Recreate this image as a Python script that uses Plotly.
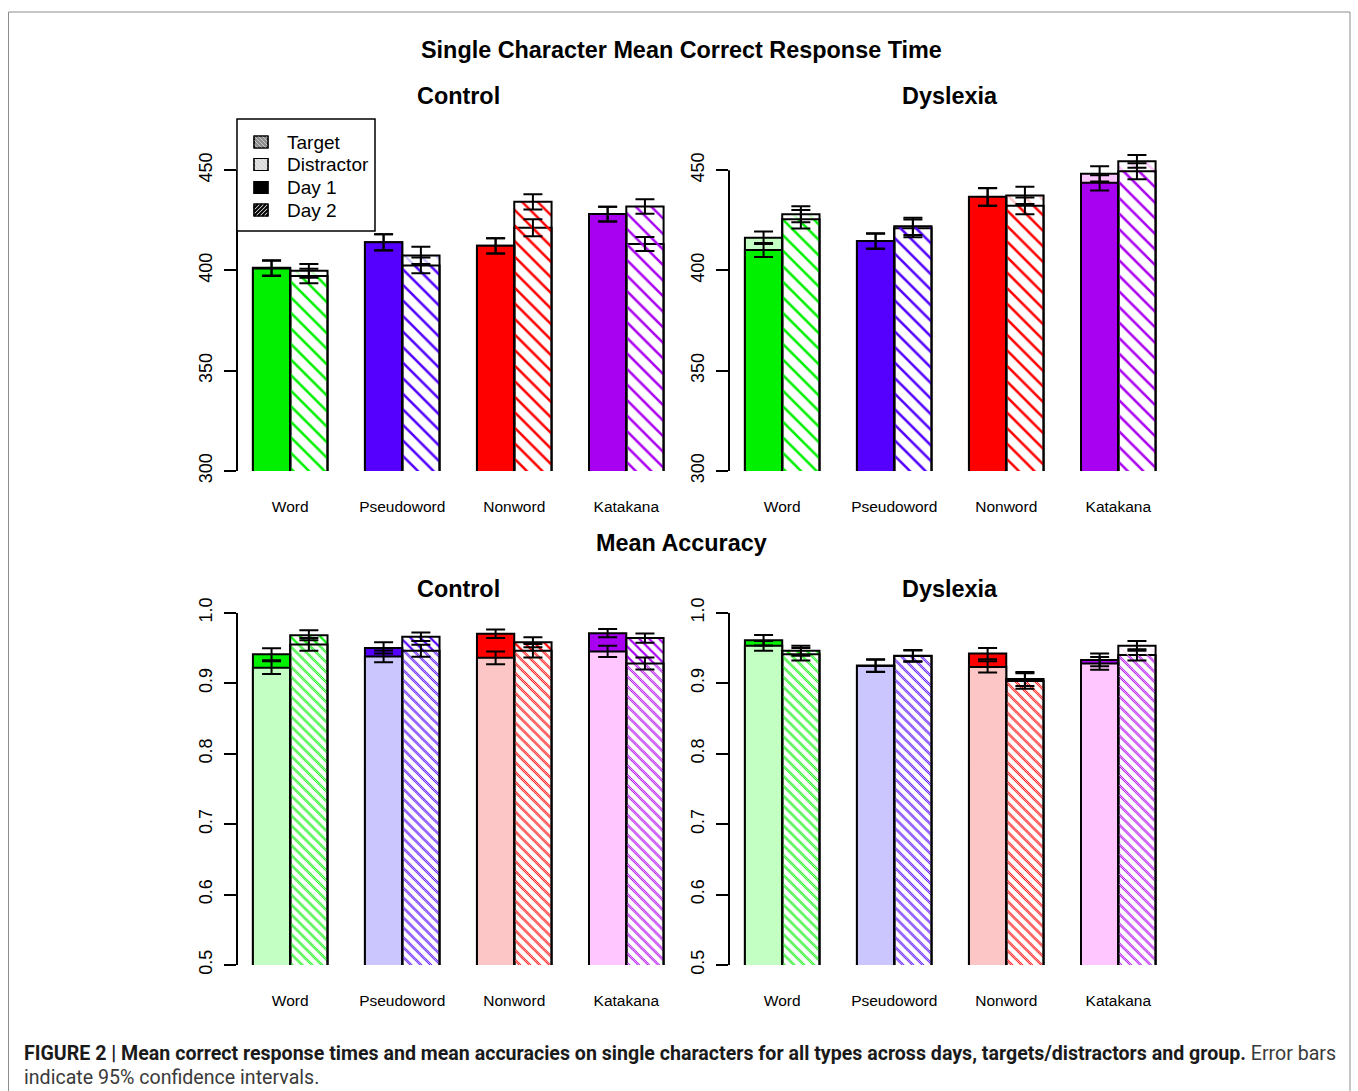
import plotly.graph_objects as go

categories = ["Word", "Pseudoword", "Nonword", "Katakana"]

# ---------- Mean correct response time (ms) ----------
rt_ctrl_d1_target = [401.0, 414.0, 412.3, 428.1]
rt_ctrl_d1_distr = [401.3, 414.0, 412.3, 428.1]
rt_ctrl_d2_target = [397.2, 402.5, 434.2, 431.9]
rt_ctrl_d2_distr = [399.8, 407.5, 421.3, 413.2]
rt_ctrl_d1_target_ci = [3.8, 4.1, 3.8, 3.7]
rt_ctrl_d1_distr_ci = [3.8, 4.0, 3.8, 3.7]
rt_ctrl_d2_target_ci = [3.6, 3.9, 3.8, 3.6]
rt_ctrl_d2_distr_ci = [3.4, 4.3, 4.2, 3.5]

rt_dys_d1_target = [410.2, 414.7, 436.7, 443.7]
rt_dys_d1_distr = [416.3, 414.5, 436.6, 448.2]
rt_dys_d2_target = [425.5, 422.0, 432.2, 449.5]
rt_dys_d2_distr = [428.0, 421.0, 437.4, 454.4]
rt_dys_d1_target_ci = [3.5, 3.8, 4.4, 3.8]
rt_dys_d1_distr_ci = [3.1, 3.8, 4.4, 3.8]
rt_dys_d2_target_ci = [4.6, 4.3, 4.2, 4.0]
rt_dys_d2_distr_ci = [4.0, 4.4, 4.3, 3.2]

# ---------- Mean accuracy ----------
acc_ctrl_d1_target = [0.941, 0.950, 0.970, 0.971]
acc_ctrl_d1_distr = [0.922, 0.938, 0.936, 0.945]
acc_ctrl_d2_target = [0.968, 0.966, 0.958, 0.964]
acc_ctrl_d2_distr = [0.955, 0.946, 0.946, 0.928]
acc_ctrl_d1_target_ci = [0.0085, 0.008, 0.006, 0.006]
acc_ctrl_d1_distr_ci = [0.009, 0.0083, 0.009, 0.008]
acc_ctrl_d2_target_ci = [0.007, 0.006, 0.007, 0.0065]
acc_ctrl_d2_distr_ci = [0.009, 0.0085, 0.0095, 0.0085]

acc_dys_d1_target = [0.961, 0.925, 0.942, 0.933]
acc_dys_d1_distr = [0.953, 0.9245, 0.923, 0.928]
acc_dys_d2_target = [0.946, 0.939, 0.906, 0.940]
acc_dys_d2_distr = [0.941, 0.9385, 0.903, 0.953]
acc_dys_d1_target_ci = [0.0074, 0.0088, 0.008, 0.009]
acc_dys_d1_distr_ci = [0.007, 0.0088, 0.008, 0.009]
acc_dys_d2_target_ci = [0.0072, 0.008, 0.010, 0.008]
acc_dys_d2_distr_ci = [0.009, 0.008, 0.011, 0.007]

rt_ticks = [300, 350, 400, 450]
acc_ticks = [0.5, 0.6, 0.7, 0.8, 0.9, 1.0]
acc_tick_text = ["0.5", "0.6", "0.7", "0.8", "0.9", "1.0"]

legend_labels = ["Target", "Distractor", "Day 1", "Day 2"]

dark_colors = ["#00F000", "#5500FF", "#FF0000", "#A800F0"]
light_colors = ["#C3FFC3", "#CCC6FF", "#FCC6C6", "#FFC6FF"]

FONT = "Liberation Sans, Arial, Helvetica, sans-serif"

W, H = 1358, 1091


def PX(x):
    return x / W


def PY(y):
    return 1 - y / H


fig = go.Figure()


def add_panel(xa, ya, d1t, d1d, d2t, d2d, e1t, e1d, e2t, e2d, pat_size, target_on_top,
              sol_bottom, sol_top):
    for og, t, d, hatched in [("d1", d1t, d1d, False), ("d2", d2t, d2d, True)]:
        layers = [(d, light_colors), (t, dark_colors)]
        if not target_on_top:
            layers = layers[::-1]
        for k, (vals, cols) in enumerate(layers):
            if hatched:
                marker = dict(
                    color=cols,
                    line=dict(color="black", width=2),
                    pattern=dict(shape="\\", fgcolor=cols,
                                 bgcolor="white" if k == 0 else "rgba(255,255,255,0)",
                                 size=pat_size, solidity=sol_bottom if k == 0 else sol_top,
                                 fillmode="replace"),
                )
            else:
                marker = dict(color=cols, line=dict(color="black", width=2))
            fig.add_trace(go.Bar(x=categories, y=vals, xaxis=xa, yaxis=ya,
                                 offsetgroup=og, marker=marker, showlegend=False,
                                 hoverinfo="skip"))
    # error bars on top (transparent carrier bars)
    for og, vals, err in [("d1", d1t, e1t), ("d1", d1d, e1d),
                          ("d2", d2t, e2t), ("d2", d2d, e2d)]:
        fig.add_trace(go.Bar(x=categories, y=vals, xaxis=xa, yaxis=ya, offsetgroup=og,
                             marker=dict(color="rgba(0,0,0,0)", line=dict(width=0)),
                             error_y=dict(type="data", array=err, color="black",
                                          thickness=2, width=9.5),
                             showlegend=False, hoverinfo="skip"))


add_panel("x", "y", rt_ctrl_d1_target, rt_ctrl_d1_distr, rt_ctrl_d2_target, rt_ctrl_d2_distr,
          rt_ctrl_d1_target_ci, rt_ctrl_d1_distr_ci, rt_ctrl_d2_target_ci, rt_ctrl_d2_distr_ci,
          11, True, 0.22, 0.22)
add_panel("x2", "y2", rt_dys_d1_target, rt_dys_d1_distr, rt_dys_d2_target, rt_dys_d2_distr,
          rt_dys_d1_target_ci, rt_dys_d1_distr_ci, rt_dys_d2_target_ci, rt_dys_d2_distr_ci,
          11, True, 0.22, 0.22)
add_panel("x3", "y3", acc_ctrl_d1_target, acc_ctrl_d1_distr, acc_ctrl_d2_target, acc_ctrl_d2_distr,
          acc_ctrl_d1_target_ci, acc_ctrl_d1_distr_ci, acc_ctrl_d2_target_ci, acc_ctrl_d2_distr_ci,
          7, False, 0.32, 0.14)
add_panel("x4", "y4", acc_dys_d1_target, acc_dys_d1_distr, acc_dys_d2_target, acc_dys_d2_distr,
          acc_dys_d1_target_ci, acc_dys_d1_distr_ci, acc_dys_d2_target_ci, acc_dys_d2_distr_ci,
          7, False, 0.32, 0.14)

xdom_l = [PX(237), PX(679.5)]
xdom_r = [PX(729), PX(1171.5)]
ydom_t = [PY(471), PY(119)]
ydom_b = [PY(965), PY(612.7)]

xcommon = dict(type="category", categoryorder="array", categoryarray=categories,
               range=[-0.475, 3.475], showline=False, showgrid=False, zeroline=False,
               ticks="outside", ticklen=21, tickcolor="rgba(0,0,0,0)", automargin=False,
               tickfont=dict(family=FONT, size=15.5, color="black"), fixedrange=True)
ycommon = dict(showline=False, showgrid=False, zeroline=False, ticks="outside",
               ticklen=12, tickwidth=2, tickcolor="black", tickangle=-90, automargin=False,
               ticklabelstandoff=5,
               tickfont=dict(family=FONT, size=18, color="black"), fixedrange=True)

fig.update_layout(
    template="none",
    width=W, height=H, autosize=False,
    margin=dict(l=0, r=0, t=0, b=0, pad=0, autoexpand=False),
    paper_bgcolor="white", plot_bgcolor="white",
    barmode="group", bargap=0.334, bargroupgap=0,
    font=dict(family=FONT, color="black"),
    showlegend=False,
    xaxis=dict(domain=xdom_l, anchor="y", **xcommon),
    xaxis2=dict(domain=xdom_r, anchor="y2", **xcommon),
    xaxis3=dict(domain=xdom_l, anchor="y3", **xcommon),
    xaxis4=dict(domain=xdom_r, anchor="y4", **xcommon),
    yaxis=dict(domain=ydom_t, anchor="x", range=[300, 475.5], tickvals=rt_ticks, **ycommon),
    yaxis2=dict(domain=ydom_t, anchor="x2", range=[300, 475.5], tickvals=rt_ticks, **ycommon),
    yaxis3=dict(domain=ydom_b, anchor="x3", range=[0.5, 1.0], tickvals=acc_ticks,
                ticktext=acc_tick_text, **ycommon),
    yaxis4=dict(domain=ydom_b, anchor="x4", range=[0.5, 1.0], tickvals=acc_ticks,
                ticktext=acc_tick_text, **ycommon),
)

# y axis lines spanning the tick range only
for xa, ya, ticks in [("x", "y", rt_ticks), ("x2", "y2", rt_ticks),
                      ("x3", "y3", acc_ticks), ("x4", "y4", acc_ticks)]:
    fig.add_shape(type="line", xref=f"{xa} domain", yref=ya, x0=0, x1=0,
                  y0=min(ticks), y1=max(ticks), line=dict(color="black", width=2))

# ---------- legend (drawn as a key box) ----------
LX0, LY0, LX1, LY1 = 237, 119, 375, 231
fig.add_shape(type="rect", xref="paper", yref="paper", x0=PX(LX0), x1=PX(LX1),
              y0=PY(LY1), y1=PY(LY0), line=dict(color="black", width=1.5),
              fillcolor="white", layer="above")
row_y = [142, 164.5, 187.5, 210]
SW0, SW1, SH = 254, 268, 12
swatch_fill = ["#8E8E8E", "#D6D6D6", "black", "white"]
hatch = [("\\", "#C4C4C4", 1.0, 4), ("\\", "#F4F4F4", 1.0, 4), None, ("/", "black", 2.2, 4)]


def seg_clip(direction, c, w, h):
    # returns (u0, v0, u1, v1) for a diagonal line inside a w x h box (v upward)
    if direction == "/":
        u0, u1 = max(0, c), min(w, h + c)
        return (u0, u0 - c, u1, u1 - c) if u1 > u0 else None
    u0, u1 = max(0, c - h), min(w, c)
    return (u0, c - u0, u1, c - u1) if u1 > u0 else None


for i, (lab, yc) in enumerate(zip(legend_labels, row_y)):
    yt, yb = yc - SH / 2, yc + SH / 2
    fig.add_shape(type="rect", xref="paper", yref="paper", x0=PX(SW0), x1=PX(SW1),
                  y0=PY(yb), y1=PY(yt), fillcolor=swatch_fill[i],
                  line=dict(color="black", width=1.2), layer="above")
    if hatch[i] is not None:
        direction, col, lw, step = hatch[i]
        w = SW1 - SW0
        cs = range(-SH, w + SH, step) if direction == "/" else range(0, w + 2 * SH, step)
        for c in cs:
            s = seg_clip(direction, c, w, SH)
            if s is None:
                continue
            u0, v0, u1, v1 = s
            fig.add_shape(type="line", xref="paper", yref="paper",
                          x0=PX(SW0 + u0), y0=PY(yb - v0), x1=PX(SW0 + u1), y1=PY(yb - v1),
                          line=dict(color=col, width=lw), layer="above")
    fig.add_shape(type="rect", xref="paper", yref="paper", x0=PX(SW0), x1=PX(SW1),
                  y0=PY(yb), y1=PY(yt), line=dict(color="black", width=1.2), layer="above")
    fig.add_annotation(text=lab, x=PX(285), y=PY(yc), xref="paper", yref="paper",
                       xanchor="left", yanchor="middle", showarrow=False,
                       font=dict(family=FONT, size=19, color="black"))

# outer frame
fig.add_shape(type="rect", xref="paper", yref="paper", x0=PX(8.5), x1=PX(1350),
              y0=PY(1100), y1=PY(12), line=dict(color="#8C8C8C", width=1))

titles = [
    ("Single Character Mean Correct Response Time", 681, 50),
    ("Control", 458, 96),
    ("Dyslexia", 950, 96),
    ("Mean Accuracy", 681, 543),
    ("Control", 458, 589),
    ("Dyslexia", 950, 589),
]
for txt, x, y in titles:
    fig.add_annotation(text=f"<b>{txt}</b>", x=PX(x), y=PY(y), xref="paper", yref="paper",
                       xanchor="center", yanchor="middle", showarrow=False,
                       font=dict(family=FONT, size=23.4, color="black"))

CAP_FONT = "Liberation Sans Narrow, Roboto, Arial, sans-serif"
fig.add_annotation(
    text="<b>FIGURE 2 | Mean correct response times and mean accuracies on single characters for all types across days, targets/distractors and group.</b>"
         "<span style='color:#3a3a3a'> Error bars</span>",
    x=PX(22), y=PY(1053), xref="paper", yref="paper", xanchor="left", yanchor="middle",
    showarrow=False, font=dict(family=CAP_FONT, size=19.6, color="#1a1a1a"))
fig.add_annotation(
    text="indicate 95% confidence intervals.",
    x=PX(22), y=PY(1077), xref="paper", yref="paper", xanchor="left", yanchor="middle",
    showarrow=False, font=dict(family=CAP_FONT, size=19.6, color="#3a3a3a"))

pin_js = (
    "var gd=document.getElementById('{plot_id}');"
    "document.documentElement.style.margin='0';"
    "document.body.style.margin='0';"
    "document.body.style.overflow='hidden';"
    "gd.style.position='fixed';gd.style.left='0px';gd.style.top='0px';"
)
fig.write_html("out.html", post_script=pin_js, config={"displayModeBar": False})
